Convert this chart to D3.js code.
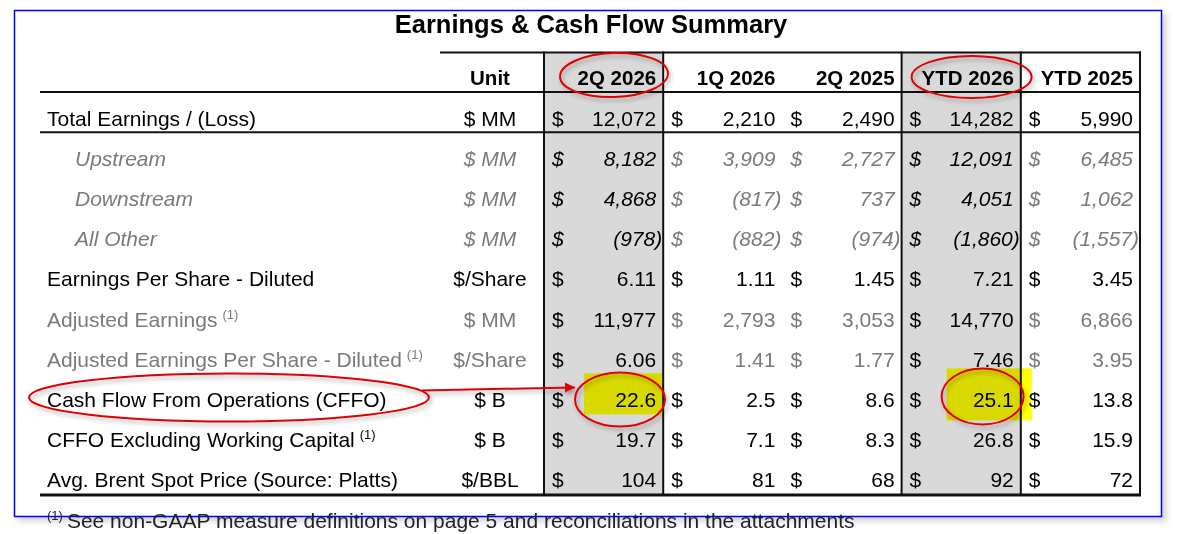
<!DOCTYPE html>
<html>
<head>
<meta charset="utf-8">
<script src="https://cdn.jsdelivr.net/npm/d3@7"></script>
<style>
  html, body { margin: 0; padding: 0; background: #fff; }
  svg { display: block; font-family: "Liberation Sans", Arial, sans-serif; }
  .hl { mix-blend-mode: multiply; }
</style>
</head>
<body>
<svg id="chart" width="1181" height="534"></svg>
<script>
// Earnings & Cash Flow Summary table, with the red/yellow call-outs.

const title = "Earnings & Cash Flow Summary";
const rows = [
    "Total Earnings / (Loss)",
    "Upstream",
    "Downstream",
    "All Other",
    "Earnings Per Share - Diluted",
    "Adjusted Earnings",
    "Adjusted Earnings Per Share - Diluted",
    "Cash Flow From Operations (CFFO)",
    "CFFO Excluding Working Capital",
    "Avg. Brent Spot Price (Source: Platts)"
];
const units = ["$ MM", "$ MM", "$ MM", "$ MM", "$/Share", "$ MM", "$/Share", "$ B", "$ B", "$/BBL"];
const decimals = [0, 0, 0, 0, 2, 0, 2, 1, 1, 0];
const subRows = [1, 2, 3];          // italic, indented
const greyRows = [1, 2, 3, 5, 6];   // grey text outside the shaded columns
const noteRows = [5, 6, 8];         // carry the (1) footnote mark
const columns = ["2Q 2026", "1Q 2026", "2Q 2025", "YTD 2026", "YTD 2025"];
const shaded = ["2Q 2026", "YTD 2026"];

const q2_2026 = [12072, 8182, 4868, -978, 6.11, 11977, 6.06, 22.6, 19.7, 104];
const q1_2026 = [2210, 3909, -817, -882, 1.11, 2793, 1.41, 2.5, 7.1, 81];
const q2_2025 = [2490, 2727, 737, -974, 1.45, 3053, 1.77, 8.6, 8.3, 68];
const ytd_2026 = [14282, 12091, 4051, -1860, 7.21, 14770, 7.46, 25.1, 26.8, 92];
const ytd_2025 = [5990, 6485, 1062, -1557, 3.45, 6866, 3.95, 13.8, 15.9, 72];
const series = [q2_2026, q1_2026, q2_2025, ytd_2026, ytd_2025];

const footnote = "See non-GAAP measure definitions on page 5 and reconciliations in the attachments";

const svg = d3.select("#chart");
const FS = 21;
const GREY = "#7a7a7a";

const x = d3.scaleBand().domain(columns).range([544, 1140]).padding(0);
const y = d3.scaleBand().domain(rows).range([98, 500]).padding(0);
const bw = x.bandwidth();
const tableLeft = 40, unitLeft = 440, tableRight = x.range()[1];
const topY = 52.5, headY = 77, headLine = 92, bottomY = 495;
const unitX = (unitLeft + x.range()[0]) / 2 - 2;

const defs = svg.append("defs");
const shadow = defs.append("filter").attr("id", "shadow")
    .attr("x", "-10%").attr("y", "-10%").attr("width", "130%").attr("height", "140%");
shadow.append("feDropShadow").attr("dx", 2).attr("dy", 3).attr("stdDeviation", 2)
    .attr("flood-color", "#000").attr("flood-opacity", 0.3);
const frameShadow = defs.append("filter").attr("id", "frameShadow")
    .attr("x", "-5%").attr("y", "-5%").attr("width", "110%").attr("height", "110%");
frameShadow.append("feDropShadow").attr("dx", 4).attr("dy", 4).attr("stdDeviation", 3)
    .attr("flood-color", "#000").attr("flood-opacity", 0.18);
defs.append("marker").attr("id", "arrow")
    .attr("viewBox", "0 0 10 10").attr("refX", 10).attr("refY", 5)
    .attr("markerWidth", 6).attr("markerHeight", 5).attr("orient", "auto")
    .attr("markerUnits", "strokeWidth")
    .append("path").attr("d", "M0,0L10,5L0,10Z").attr("fill", "#e00000");

// blue frame
svg.append("rect")
    .attr("x", 14.5).attr("y", 10.5).attr("width", 1147).attr("height", 506)
    .attr("fill", "#fff").attr("stroke", "#0000f0").attr("stroke-width", 1.5)
    .attr("filter", "url(#frameShadow)");

// shaded columns
svg.selectAll("rect.shade")
    .data(shaded)
    .join("rect")
    .attr("class", "shade")
    .attr("x", d => x(d)).attr("y", topY)
    .attr("width", bw).attr("height", bottomY - topY)
    .attr("fill", "#d9d9d9");

// yellow highlights on CFFO
const cffo = rows[7];
const hl = [
    { col: "2Q 2026", x0: 40, x1: 0, y0: -6, y1: 35 },
    { col: "YTD 2026", x0: 45, x1: 11, y0: -11, y1: 41 }
];
svg.selectAll("rect.hl")
    .data(hl)
    .join("rect")
    .attr("class", "hl")
    .attr("x", d => x(d.col) + d.x0)
    .attr("y", d => y(cffo) + d.y0)
    .attr("width", d => bw - d.x0 + d.x1)
    .attr("height", d => d.y1 - d.y0)
    .attr("fill", "#ffff00");

// title
svg.append("text")
    .attr("x", 591).attr("y", 33)
    .attr("text-anchor", "middle")
    .attr("font-size", 25.5).attr("font-weight", "bold")
    .attr("fill", "#000")
    .text(title);

// header
svg.append("text")
    .attr("x", unitX).attr("y", headY + 7.5)
    .attr("text-anchor", "middle")
    .attr("font-size", 20.5).attr("font-weight", "bold")
    .text("Unit");
svg.selectAll("text.colHead")
    .data(columns)
    .join("text")
    .attr("class", "colHead")
    .attr("x", d => x(d) + bw - 7)
    .attr("y", headY + 7.5)
    .attr("text-anchor", "end")
    .attr("font-size", 20.5).attr("font-weight", "bold")
    .text(d => d);

// row labels
const labels = svg.selectAll("text.label")
    .data(rows)
    .join("text")
    .attr("class", "label")
    .attr("x", (d, i) => subRows.includes(i) ? 75 : 47)
    .attr("y", d => y(d) + y.bandwidth() / 2 + 7.5)
    .attr("font-size", FS)
    .attr("font-style", (d, i) => subRows.includes(i) ? "italic" : "normal")
    .attr("fill", (d, i) => greyRows.includes(i) ? GREY : "#000");
labels.append("tspan").text(d => d);
labels.filter((d, i) => noteRows.includes(i))
    .append("tspan")
    .attr("font-size", 13).attr("dx", 5).attr("dy", -8)
    .text("(1)");

// units
svg.selectAll("text.unit")
    .data(units)
    .join("text")
    .attr("class", "unit")
    .attr("x", unitX)
    .attr("y", (d, i) => y(rows[i]) + y.bandwidth() / 2 + 7.5)
    .attr("text-anchor", "middle")
    .attr("font-size", FS)
    .attr("font-style", (d, i) => subRows.includes(i) ? "italic" : "normal")
    .attr("fill", (d, i) => greyRows.includes(i) ? GREY : "#000")
    .text(d => d);

// cells
const cells = [];
series.forEach((vals, c) => {
    vals.forEach((v, r) => cells.push({ col: columns[c], row: r, v }));
});
const fmt = (v, r) => {
    const s = d3.format(",." + decimals[r] + "f")(Math.abs(v));
    return v < 0 ? "(" + s + ")" : s;
};
const cellColor = d => (greyRows.includes(d.row) && !shaded.includes(d.col)) ? GREY : "#000";
const cellY = d => y(rows[d.row]) + y.bandwidth() / 2 + 7.5;
const cellStyle = d => subRows.includes(d.row) ? "italic" : "normal";

svg.selectAll("text.dollar")
    .data(cells)
    .join("text")
    .attr("class", "dollar")
    .attr("x", d => x(d.col) + 8)
    .attr("y", cellY)
    .attr("font-size", FS)
    .attr("font-style", cellStyle)
    .attr("fill", cellColor)
    .text("$");

svg.selectAll("text.value")
    .data(cells)
    .join("text")
    .attr("class", "value")
    .attr("x", d => x(d.col) + bw - 7 + (d.v < 0 ? 6 : 0))
    .attr("y", cellY)
    .attr("text-anchor", "end")
    .attr("font-size", FS)
    .attr("font-style", cellStyle)
    .attr("fill", cellColor)
    .text(d => fmt(d.v, d.row));

// rules
const hLines = [
    { x1: unitLeft, y: topY, w: 2 },
    { x1: tableLeft, y: headLine, w: 2 },
    { x1: tableLeft, y: y(rows[1]) - 6, w: 2 },
    { x1: tableLeft, y: bottomY, w: 3 }
];
svg.selectAll("line.h")
    .data(hLines)
    .join("line")
    .attr("class", "h")
    .attr("x1", d => d.x1).attr("x2", tableRight + 1)
    .attr("y1", d => d.y).attr("y2", d => d.y)
    .attr("stroke", "#111").attr("stroke-width", d => d.w);

const vLines = [x("2Q 2026"), x("1Q 2026"), x("YTD 2026"), x("YTD 2025"), tableRight];
svg.selectAll("line.v")
    .data(vLines)
    .join("line")
    .attr("class", "v")
    .attr("x1", d => d).attr("x2", d => d)
    .attr("y1", topY - 1).attr("y2", bottomY)
    .attr("stroke", "#111").attr("stroke-width", 2);

// red call-outs
const ann = svg.append("g")
    .attr("fill", "none").attr("stroke", "#e00000").attr("stroke-width", 2)
    .attr("filter", "url(#shadow)");
const ellipses = [
    { cx: x("2Q 2026") + 70, cy: headY - 2, rx: 54, ry: 22, rot: -2 },
    { cx: x("YTD 2026") + 70, cy: headY, rx: 60, ry: 21, rot: 0 },
    { cx: 229, cy: y(cffo) + y.bandwidth() / 2 - 2, rx: 200, ry: 24, rot: 0 },
    { cx: x("2Q 2026") + 76, cy: y(cffo) + y.bandwidth() / 2, rx: 45, ry: 27, rot: 0 },
    { cx: x("YTD 2026") + 81, cy: y(cffo) + y.bandwidth() / 2 - 3, rx: 41, ry: 28, rot: 0 }
];
ann.selectAll("ellipse")
    .data(ellipses)
    .join("ellipse")
    .attr("cx", d => d.cx).attr("cy", d => d.cy)
    .attr("rx", d => d.rx).attr("ry", d => d.ry)
    .attr("transform", d => `rotate(${d.rot},${d.cx},${d.cy})`);

ann.append("line")
    .attr("x1", 422).attr("y1", y(cffo) + 11)
    .attr("x2", x("2Q 2026") + 31).attr("y2", y(cffo) + 8)
    .attr("marker-end", "url(#arrow)");

// footnote
const fn = svg.append("text")
    .attr("x", 47).attr("y", 528)
    .attr("font-size", 21)
    .attr("fill", "#222");
fn.append("tspan").attr("font-size", 13).attr("dy", -8).text("(1)");
fn.append("tspan").attr("dx", 4).attr("dy", 8).text(footnote);
</script>
</body>
</html>
